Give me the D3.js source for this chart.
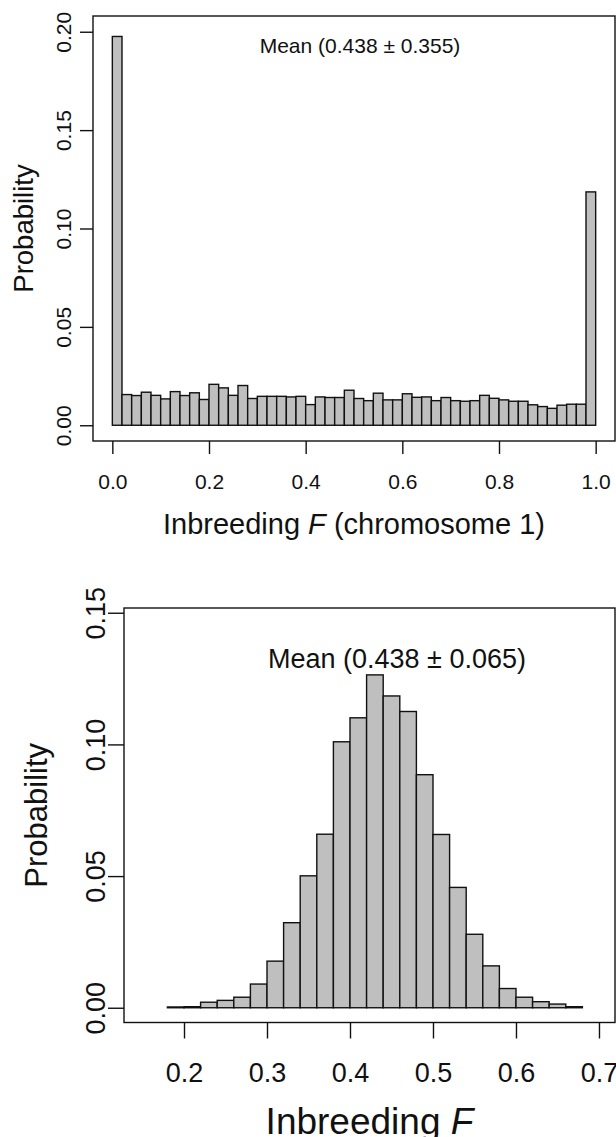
<!DOCTYPE html>
<html>
<head>
<meta charset="utf-8">
<script src="https://cdn.jsdelivr.net/npm/d3@7"></script>
<style>
  body { margin: 0; background: #fff; }
  svg { display: block; font-family: "Liberation Sans", Arial, sans-serif; }
</style>
</head>
<body>
<div id="chart"></div>
<script>
// top panel: F on chromosome 1, bins of 0.02
const topBins = [0.00, 0.02, 0.04, 0.06, 0.08, 0.10, 0.12, 0.14, 0.16, 0.18,
                 0.20, 0.22, 0.24, 0.26, 0.28, 0.30, 0.32, 0.34, 0.36, 0.38,
                 0.40, 0.42, 0.44, 0.46, 0.48, 0.50, 0.52, 0.54, 0.56, 0.58,
                 0.60, 0.62, 0.64, 0.66, 0.68, 0.70, 0.72, 0.74, 0.76, 0.78,
                 0.80, 0.82, 0.84, 0.86, 0.88, 0.90, 0.92, 0.94, 0.96, 0.98];
const topProb = [0.1976, 0.0156, 0.0151, 0.0168, 0.0152, 0.0134, 0.0171, 0.0151, 0.0165, 0.0131,
                 0.0208, 0.0190, 0.0152, 0.0202, 0.0136, 0.0147, 0.0147, 0.0147, 0.0144, 0.0147,
                 0.0105, 0.0144, 0.0141, 0.0141, 0.0178, 0.0136, 0.0125, 0.0163, 0.0129, 0.0129,
                 0.0160, 0.0142, 0.0144, 0.0125, 0.0141, 0.0125, 0.0122, 0.0125, 0.0152, 0.0137,
                 0.0129, 0.0122, 0.0122, 0.0104, 0.0095, 0.0086, 0.0102, 0.0107, 0.0107, 0.1186];
const topXTicks = [0, 0.2, 0.4, 0.6, 0.8, 1.0];
const topYTicks = [0, 0.05, 0.10, 0.15, 0.20];

// bottom panel: genome-wide F
const botBins = [0.18, 0.20, 0.22, 0.24, 0.26, 0.28, 0.30, 0.32, 0.34, 0.36,
                 0.38, 0.40, 0.42, 0.44, 0.46, 0.48, 0.50, 0.52, 0.54, 0.56,
                 0.58, 0.60, 0.62, 0.64, 0.66];
const botProb = [0.0003, 0.0004, 0.0021, 0.0028, 0.0040, 0.0090, 0.0177, 0.0323, 0.0501, 0.0659,
                 0.1010, 0.1101, 0.1264, 0.1184, 0.1125, 0.0885, 0.0658, 0.0457, 0.0279, 0.0159,
                 0.0073, 0.0040, 0.0023, 0.0014, 0.0004];
const botXTicks = [0.2, 0.3, 0.4, 0.5, 0.6, 0.7];
const botYTicks = [0, 0.05, 0.10, 0.15];

const binWidth = 0.02;

const width = 616, height = 1137;
const svg = d3.select("#chart").append("svg")
    .attr("width", width)
    .attr("height", height);

function drawPanel(p) {
    const x = d3.scaleLinear().domain(p.xDomain).range([p.left, p.right]);
    const y = d3.scaleLinear().domain(p.yDomain).range([p.bottom, p.top]);
    const g = svg.append("g");

    g.selectAll("rect.bar")
        .data(p.bins.map((b, i) => ({ x0: b, v: p.values[i] })))
        .enter()
        .append("rect")
        .attr("class", "bar")
        .attr("x", d => x(d.x0))
        .attr("width", d => x(d.x0 + binWidth) - x(d.x0))
        .attr("y", d => y(d.v))
        .attr("height", d => y(0) - y(d.v))
        .attr("fill", "#bfbfbf")
        .attr("stroke", "#111")
        .attr("stroke-width", 1.4);

    g.append("rect")
        .attr("x", p.left)
        .attr("y", p.top)
        .attr("width", p.right - p.left)
        .attr("height", p.bottom - p.top)
        .attr("fill", "none")
        .attr("stroke", "#111")
        .attr("stroke-width", 1.4);

    const xAxis = g.append("g")
        .attr("transform", `translate(0,${p.bottom})`)
        .call(d3.axisBottom(x)
            .tickValues(p.xTicks)
            .tickFormat(d3.format(".1f"))
            .tickSize(p.tick)
            .tickPadding(p.xPad));
    xAxis.select(".domain").remove();

    const yAxis = g.append("g")
        .attr("transform", `translate(${p.left},0)`)
        .call(d3.axisLeft(y)
            .tickValues(p.yTicks)
            .tickFormat(d3.format(".2f"))
            .tickSize(p.tick));
    yAxis.select(".domain").remove();
    yAxis.selectAll("text")
        .attr("transform", "rotate(-90)")
        .attr("x", 0)
        .attr("y", -p.yLabelOff)
        .attr("dy", 0)
        .attr("text-anchor", "middle");

    [xAxis, yAxis].forEach(a => {
        a.attr("font-family", null).attr("font-size", null);
        a.selectAll("line").attr("stroke", "#111").attr("stroke-width", 1.4);
        a.selectAll("text").attr("fill", "#111").style("font-size", p.tickFont + "px");
    });

    const title = g.append("text")
        .attr("x", (p.left + p.right) / 2)
        .attr("y", p.titleY)
        .attr("text-anchor", "middle")
        .attr("fill", "#111")
        .style("font-size", p.titleFont + "px");
    p.title.forEach(part => {
        title.append("tspan")
            .attr("font-style", part.italic ? "italic" : null)
            .text(part.t);
    });

    g.append("text")
        .attr("transform", `translate(${p.yTitleX},${(p.top + p.bottom) / 2}) rotate(-90)`)
        .attr("text-anchor", "middle")
        .attr("fill", "#111")
        .style("font-size", p.yTitleFont + "px")
        .text("Probability");

    g.append("text")
        .attr("x", p.meanX)
        .attr("y", p.meanY)
        .attr("text-anchor", "middle")
        .attr("fill", "#111")
        .style("font-size", p.meanFont + "px")
        .text(p.mean);
}

drawPanel({
    bins: topBins, values: topProb, xTicks: topXTicks, yTicks: topYTicks,
    xDomain: [-0.04, 1.04], yDomain: [-0.008, 0.208],
    left: 93, right: 615, top: 16, bottom: 441,
    tick: 13, xPad: 20, yLabelOff: 22, tickFont: 21,
    title: [{ t: "Inbreeding " }, { t: "F", italic: true }, { t: " (chromosome 1)" }],
    titleY: 534, titleFont: 29,
    yTitleX: 33, yTitleFont: 27.5,
    mean: "Mean (0.438 ± 0.355)", meanX: 360, meanY: 52.5, meanFont: 21
});

drawPanel({
    bins: botBins, values: botProb, xTicks: botXTicks, yTicks: botYTicks,
    xDomain: [0.1277, 0.7193], yDomain: [-0.0056, 0.1518],
    left: 124, right: 615, top: 608, bottom: 1022.5,
    tick: 16, xPad: 24, yLabelOff: 19, tickFont: 27,
    title: [{ t: "Inbreeding " }, { t: "F", italic: true }],
    titleY: 1134, titleFont: 37,
    yTitleX: 47, yTitleFont: 31,
    mean: "Mean (0.438 ± 0.065)", meanX: 397, meanY: 668, meanFont: 27
});
</script>
</body>
</html>
